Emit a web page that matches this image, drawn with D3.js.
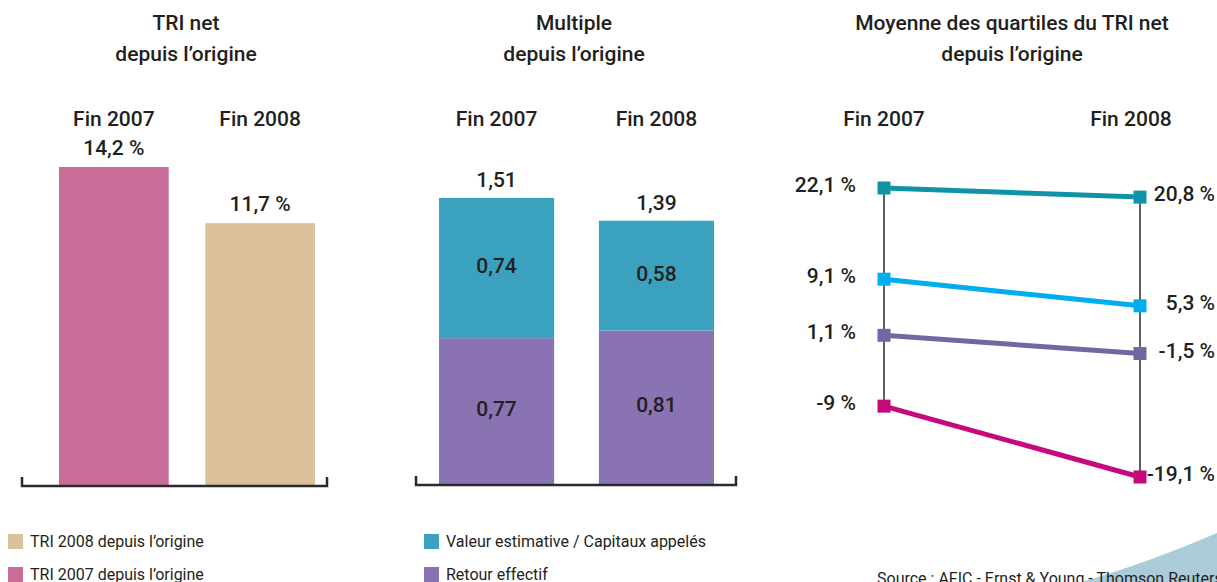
<!DOCTYPE html>
<html>
<head>
<meta charset="utf-8">
<script src="https://cdn.jsdelivr.net/npm/d3@7"></script>
<style>
    body { margin: 0; background: #fff; }
    svg text { font-family: "Roboto", "Liberation Sans", sans-serif; font-weight: 500; fill: #231f20; }
    svg text.small { font-weight: 400; }
</style>
</head>
<body>
<svg id="chart" width="1217" height="582"></svg>
<script>
const categories = ["Fin 2007", "Fin 2008"];

// TRI net depuis l'origine (%)
const triNet = [14.2, 11.7];
const triLegend = ["TRI 2008 depuis l’origine", "TRI 2007 depuis l’origine"];

// Multiple depuis l'origine
const retourEffectif = [0.77, 0.81];
const valeurEstimative = [0.74, 0.58];
const multipleTotal = [1.51, 1.39];
const multipleLegend = ["Valeur estimative / Capitaux appelés", "Retour effectif"];

// Moyenne des quartiles du TRI net (%), du 1er au 4e quartile
const quartiles2007 = [22.1, 9.1, 1.1, -9];
const quartiles2008 = [20.8, 5.3, -1.5, -19.1];

const source = "Source : AFIC - Ernst & Young - Thomson Reuters";

const fr = d3.formatLocale({ decimal: ",", thousands: " ", grouping: [3], currency: ["", " €"], minus: "-" });
const fmtPct = v => fr.format(".1~f")(v) + " %";
const fmtMult = fr.format(".2f");

let svg = d3.select("#chart");

// decor en bas a droite
svg.append("path")
    .attr("d", "M1082,582 Q1150,562 1217,533 L1217,582 Z")
    .attr("fill", "#abcbd8");

function titre(lines, cx) {
    let t = svg.append("text")
        .attr("text-anchor", "middle")
        .attr("font-size", 21);
    lines.forEach((l, i) => {
        t.append("tspan").attr("x", cx).attr("y", 30 + i * 31).text(l);
    });
}

function crochet(x0, x1, y) {
    svg.append("path")
        .attr("d", `M${x0},${y - 9}V${y}H${x1}V${y - 9}`)
        .attr("fill", "none")
        .attr("stroke", "#2b2b2b")
        .attr("stroke-width", 2.5);
}

function legende(x, y, items, colors) {
    let g = svg.append("g").selectAll("g")
        .data(items)
        .enter()
        .append("g")
        .attr("transform", (d, i) => `translate(${x}, ${y + i * 33})`);
    g.append("rect").attr("width", 15).attr("height", 15).attr("fill", (d, i) => colors[i]);
    g.append("text").attr("class", "small").attr("x", 22).attr("y", 13).attr("font-size", 16).text(d => d);
}

// ---- 1. TRI net ----
titre(["TRI net", "depuis l’origine"], 186);

let x1 = d3.scaleBand().domain(categories).range([59, 315]).paddingInner(0.25);
let y1 = d3.scaleLinear().domain([0, d3.max(triNet)]).range([486, 167]);
let triColors = ["#c86c98", "#dcbf9b"];

svg.append("g").selectAll("rect")
    .data(triNet)
    .enter()
    .append("rect")
    .attr("x", (d, i) => x1(categories[i]))
    .attr("y", d => y1(d))
    .attr("width", x1.bandwidth())
    .attr("height", d => y1(0) - y1(d))
    .attr("fill", (d, i) => triColors[i]);

svg.append("g").selectAll("text")
    .data(triNet)
    .enter()
    .append("text")
    .attr("text-anchor", "middle")
    .attr("font-size", 21)
    .attr("x", (d, i) => x1(categories[i]) + x1.bandwidth() / 2)
    .attr("y", d => y1(d) - 12)
    .text(d => fmtPct(d));

svg.append("g").selectAll("text")
    .data(categories)
    .enter()
    .append("text")
    .attr("text-anchor", "middle")
    .attr("font-size", 21)
    .attr("x", d => x1(d) + x1.bandwidth() / 2)
    .attr("y", 126)
    .text(d => d);

crochet(22, 327, 486);
legende(8, 534, triLegend, [triColors[1], triColors[0]]);

// ---- 2. Multiple ----
titre(["Multiple", "depuis l’origine"], 574);

let x2 = d3.scaleBand().domain(categories).range([439, 714]).paddingInner(0.28);
let y2 = d3.scaleLinear().domain([0, d3.max(multipleTotal)]).range([484, 198]);
let multColors = { retour: "#8a73b2", valeur: "#3aa2bf" };

let rows = categories.map((c, i) => ({ cat: c, retour: retourEffectif[i], valeur: valeurEstimative[i] }));
let stacked = d3.stack().keys(["retour", "valeur"])(rows);

let couche = svg.append("g").selectAll("g")
    .data(stacked)
    .enter()
    .append("g")
    .attr("fill", d => multColors[d.key]);

couche.selectAll("rect")
    .data(d => d)
    .enter()
    .append("rect")
    .attr("x", d => x2(d.data.cat))
    .attr("y", d => y2(d[1]))
    .attr("width", x2.bandwidth())
    .attr("height", d => y2(d[0]) - y2(d[1]));

couche.selectAll("text")
    .data(d => d.map(s => ({ s: s, key: d.key })))
    .enter()
    .append("text")
    .attr("text-anchor", "middle")
    .attr("font-size", 21)
    .attr("x", d => x2(d.s.data.cat) + x2.bandwidth() / 2)
    .attr("y", d => (y2(d.s[0]) + y2(d.s[1])) / 2 + 5)
    .text(d => fmtMult(d.s.data[d.key]));

svg.append("g").selectAll("text")
    .data(multipleTotal)
    .enter()
    .append("text")
    .attr("text-anchor", "middle")
    .attr("font-size", 21)
    .attr("x", (d, i) => x2(categories[i]) + x2.bandwidth() / 2)
    .attr("y", d => y2(d) - 11)
    .text(d => fmtMult(d));

svg.append("g").selectAll("text")
    .data(categories)
    .enter()
    .append("text")
    .attr("text-anchor", "middle")
    .attr("font-size", 21)
    .attr("x", d => x2(d) + x2.bandwidth() / 2)
    .attr("y", 126)
    .text(d => d);

crochet(416, 736, 485);
legende(424, 534, multipleLegend, [multColors.valeur, multColors.retour]);

// ---- 3. Quartiles ----
titre(["Moyenne des quartiles du TRI net", "depuis l’origine"], 1012);

let x3 = d3.scalePoint().domain(categories).range([884, 1140]);
let y3 = d3.scaleLinear()
    .domain(d3.extent(quartiles2007.concat(quartiles2008)))
    .range([477, 188]);
let qColors = ["#1193a7", "#00adee", "#6f69a3", "#c5087c"];
let cols = [quartiles2007, quartiles2008];

// axes verticaux
svg.append("g").selectAll("line")
    .data(cols)
    .enter()
    .append("line")
    .attr("x1", (d, i) => x3(categories[i]))
    .attr("x2", (d, i) => x3(categories[i]))
    .attr("y1", d => y3(d3.max(d)))
    .attr("y2", d => y3(d3.min(d)))
    .attr("stroke", "#2b2b2b")
    .attr("stroke-width", 1.5);

let series = quartiles2007.map((v, i) => [v, quartiles2008[i]]);
let line = d3.line().x((d, i) => x3(categories[i])).y(d => y3(d));

svg.append("g").selectAll("path")
    .data(series)
    .enter()
    .append("path")
    .attr("d", line)
    .attr("fill", "none")
    .attr("stroke", (d, i) => qColors[i])
    .attr("stroke-width", 5);

let q = svg.append("g").selectAll("g")
    .data(series)
    .enter()
    .append("g");

q.selectAll("rect")
    .data((d, i) => d.map((v, j) => ({ v: v, j: j, c: qColors[i] })))
    .enter()
    .append("rect")
    .attr("x", d => x3(categories[d.j]) - 6.5)
    .attr("y", d => y3(d.v) - 6.5)
    .attr("width", 13)
    .attr("height", 13)
    .attr("fill", d => d.c);

q.selectAll("text")
    .data(d => d.map((v, j) => ({ v: v, j: j })))
    .enter()
    .append("text")
    .attr("text-anchor", "end")
    .attr("font-size", 21)
    .attr("x", d => d.j == 0 ? 856 : 1215)
    .attr("y", d => y3(d.v) + 4)
    .text(d => fmtPct(d.v));

svg.append("g").selectAll("text")
    .data(categories)
    .enter()
    .append("text")
    .attr("text-anchor", "middle")
    .attr("font-size", 21)
    .attr("x", (d, i) => i == 0 ? x3(d) : x3(d) - 9)
    .attr("y", 126)
    .text(d => d);

svg.append("text")
    .attr("class", "small")
    .attr("x", 877)
    .attr("y", 584)
    .attr("font-size", 16)
    .text(source);
</script>
</body>
</html>
